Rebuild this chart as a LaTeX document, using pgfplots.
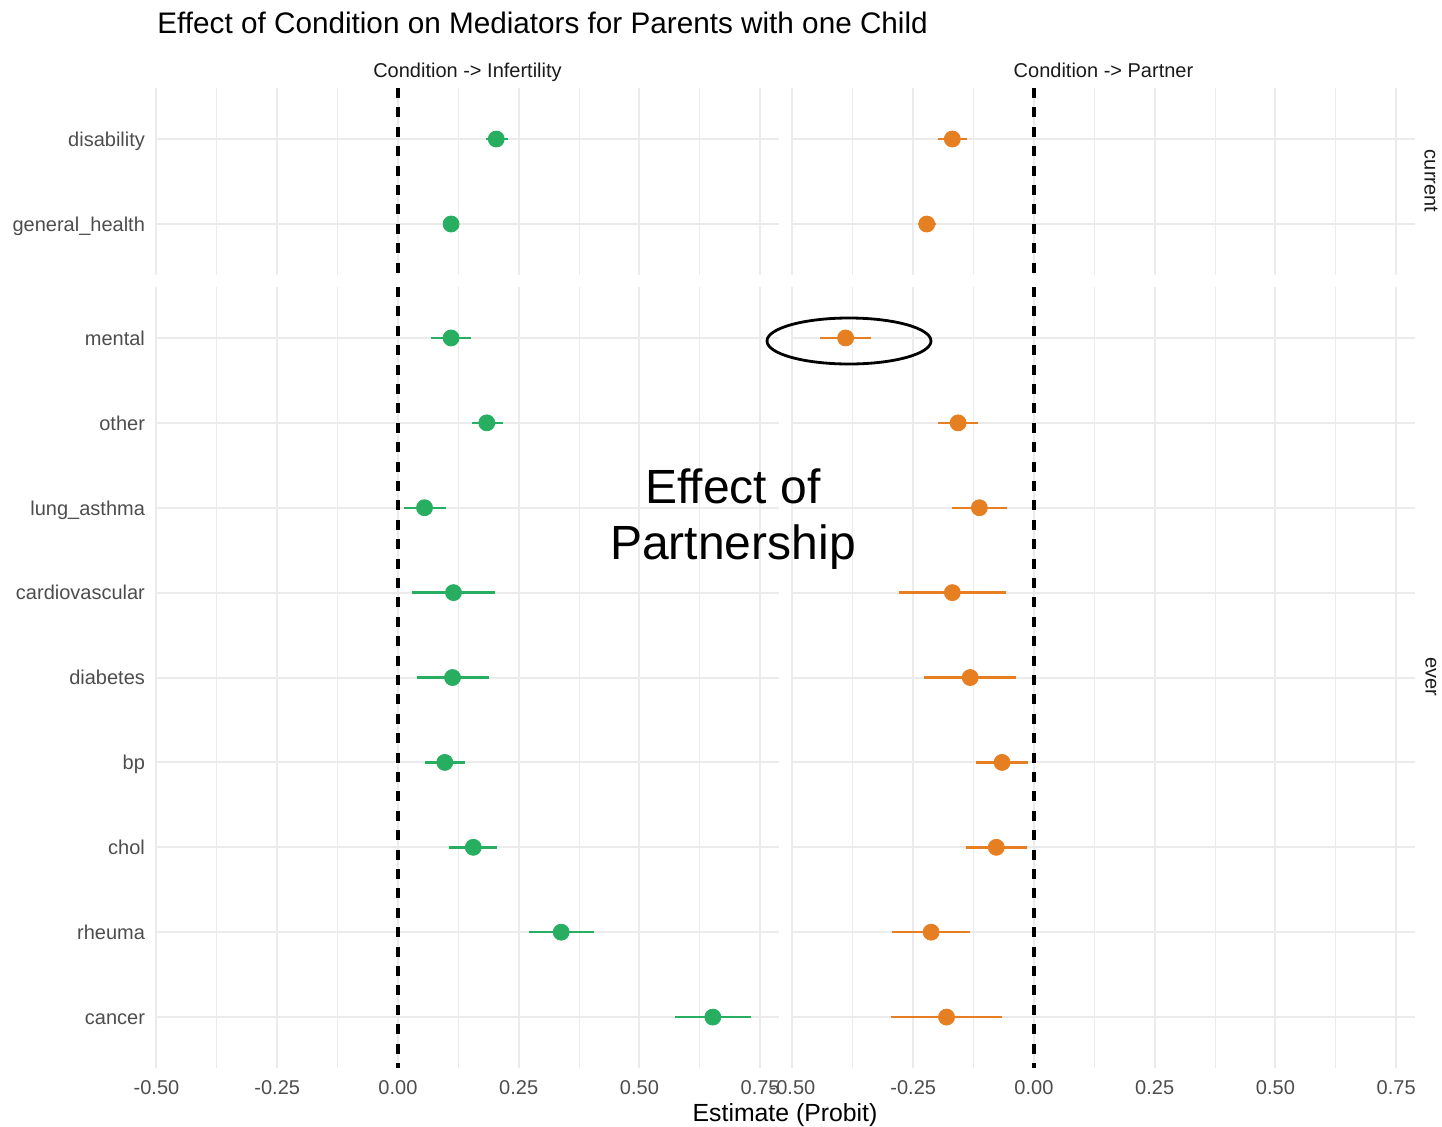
\documentclass[border=0pt]{standalone}
\usepackage{pgfplots}
\pgfplotsset{compat=1.18}
\usepackage{pgfplotstable}
\usepackage{fontspec}
\setmainfont{Liberation Sans}
\definecolor{cgreen}{HTML}{27AE60}
\definecolor{corange}{HTML}{E67E22}
\definecolor{gridc}{HTML}{EBEBEB}
\definecolor{axtext}{HTML}{4D4D4D}
\definecolor{striptext}{HTML}{1A1A1A}

\pgfplotstableread{
pos est lo hi
1 0.2036 0.182 0.227
2 0.110 0.104 0.117
}\infcur
\pgfplotstableread{
pos est lo hi
1 0.110 0.069 0.151
2 0.184 0.153 0.217
3 0.055 0.013 0.099
4 0.115 0.030 0.201
5 0.113 0.039 0.188
6 0.097 0.057 0.139
7 0.156 0.106 0.206
8 0.338 0.271 0.405
9 0.652 0.574 0.730
}\infever
\pgfplotstableread{
pos est lo hi
1 -0.169 -0.199 -0.138
2 -0.222 -0.241 -0.202
}\parcur
\pgfplotstableread{
pos est lo hi
1 -0.390 -0.443 -0.337
2 -0.157 -0.199 -0.115
3 -0.113 -0.170 -0.056
4 -0.169 -0.280 -0.058
5 -0.132 -0.228 -0.037
6 -0.066 -0.121 -0.012
7 -0.078 -0.140 -0.015
8 -0.213 -0.293 -0.133
9 -0.181 -0.295 -0.067
}\parever

\pgfplotsset{
  panel/.style={
    scale only axis, width=311.5pt,
    xmin=-0.501, xmax=0.789,
    y dir=reverse,
    axis line style={draw=none},
    major tick length=0pt, minor tick length=0pt,
    xtick={-0.5,-0.25,0,0.25,0.5,0.75},
    minor x tick num=1,
    xmajorgrids, xminorgrids, ymajorgrids,
    major grid style={line width=1pt, color=gridc},
    minor grid style={line width=0.5pt, color=gridc},
    tick label style={font=\fontsize{10}{12}\selectfont, text=axtext},
    xticklabels={},
    yticklabel style={anchor=east, text height=7.3pt, text depth=0pt, xshift=-2pt},
    xticklabel style={yshift=-2.5pt},
    clip=false,
  },
  toprow/.style={height=93.5pt, ymin=0.4, ymax=2.6, ytick={1,2}},
  botrow/.style={height=390.5pt, ymin=0.4, ymax=9.6, ytick={1,...,9}},
  pts/.style={only marks, mark=*, mark size=4pt, color=#1,
    mark options={fill=#1, draw=#1},
    error bars/.cd, x dir=both, x explicit, error mark=none,
    error bar style={line width=1.2pt, color=#1}},
  zeroline/.style={black, line width=1.6pt, dash pattern=on 5pt off 4.7pt},
}
\newcommand{\pr}[2]{\addplot[pts=#2] table[x=est, y=pos,
  x error plus expr=\thisrow{hi}-\thisrow{est},
  x error minus expr=\thisrow{est}-\thisrow{lo}] {#1};}

\begin{document}
\begin{tikzpicture}
\useasboundingbox (0pt,0pt) rectangle (721pt,-563pt);

% top-left
\begin{axis}[panel, toprow, at={(78pt,-137.5pt)}, anchor=south west,
  yticklabels={disability,general\_health}]
\addplot[zeroline] coordinates {(0,0.4) (0,2.6)};
\pr{\infcur}{cgreen}
\end{axis}
% top-right
\begin{axis}[panel, toprow, at={(396pt,-137.5pt)}, anchor=south west,
  yticklabels={}]
\addplot[zeroline] coordinates {(0,0.4) (0,2.6)};
\pr{\parcur}{corange}
\end{axis}
% bottom-left
\begin{axis}[panel, botrow, at={(78pt,-534pt)}, anchor=south west,
  yticklabels={mental,other,lung\_asthma,cardiovascular,diabetes,bp,chol,rheuma,cancer},
  xticklabels={-0.50,-0.25,0.00,0.25,0.50,0.75}]
\addplot[zeroline] coordinates {(0,0.4) (0,9.6)};
\pr{\infever}{cgreen}
\end{axis}
% bottom-right
\begin{axis}[panel, botrow, at={(396pt,-534pt)}, anchor=south west,
  yticklabels={},
  xticklabels={-0.50,-0.25,0.00,0.25,0.50,0.75}]
\addplot[zeroline] coordinates {(0,0.4) (0,9.6)};
\pr{\parever}{corange}
\end{axis}

% texts
\node[anchor=base west, inner sep=0pt, font=\fontsize{14.85}{18}\selectfont] at (78.5pt,-16.5pt)
  {Effect of Condition on Mediators for Parents with one Child};
\node[anchor=base, inner sep=0pt, font=\fontsize{10}{12}\selectfont, text=striptext] at (233.75pt,-38.5pt)
  {Condition -> Infertility};
\node[anchor=base, inner sep=0pt, font=\fontsize{10}{12}\selectfont, text=striptext] at (551.75pt,-38.5pt)
  {Condition -> Partner};
\node[rotate=-90, inner sep=0pt, font=\fontsize{10}{12}\selectfont, text=striptext] at (715.5pt,-90.5pt)
  {current};
\node[rotate=-90, inner sep=0pt, font=\fontsize{10}{12}\selectfont, text=striptext] at (715.5pt,-338.5pt)
  {ever};
\node[anchor=base, inner sep=0pt, font=\fontsize{12.4}{14}\selectfont] at (392.5pt,-560.5pt)
  {Estimate (Probit)};
\node[anchor=base, inner sep=0pt, font=\fontsize{24}{28}\selectfont] at (366.5pt,-251.5pt) {Effect of};
\node[anchor=base, inner sep=0pt, font=\fontsize{24}{28}\selectfont] at (366.5pt,-279.5pt) {Partnership};
\draw[line width=1.4pt] (424.5pt,-170.5pt) ellipse [x radius=41pt, y radius=11.5pt];
\end{tikzpicture}
\end{document}
